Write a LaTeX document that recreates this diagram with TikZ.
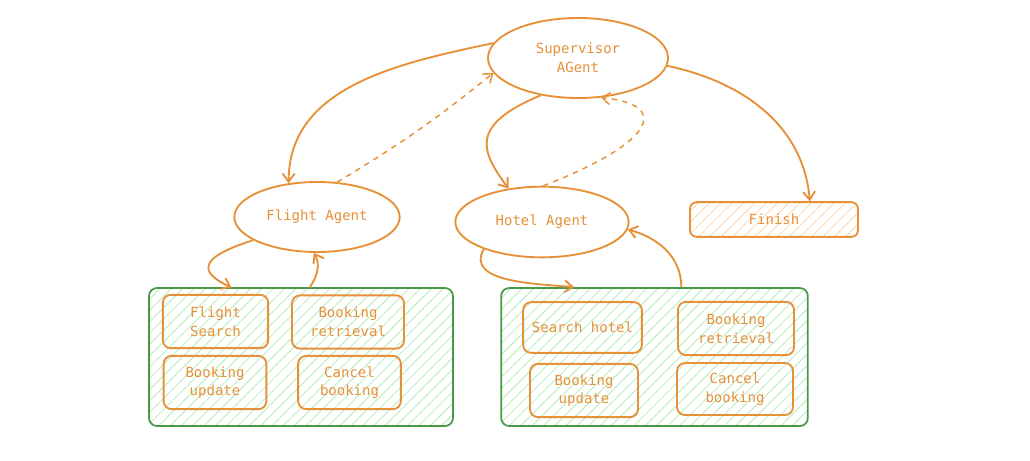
\documentclass[tikz,border=0pt]{standalone}
\usepackage{fontspec}
\setmainfont{DejaVu Sans Mono}
\usetikzlibrary{arrows.meta,patterns.meta,shapes.geometric}

\definecolor{agentorange}{RGB}{230,145,56}
\definecolor{toolgreen}{RGB}{72,152,72}
\definecolor{hatchgreen}{RGB}{178,236,186}
\definecolor{hatchorange}{RGB}{255,214,170}

\begin{document}
\begin{tikzpicture}[
    x=0.75pt, y=-0.75pt,
    font=\fontsize{10.5pt}{14pt}\selectfont,
    agent/.style={
        ellipse,
        draw=agentorange,
        line width=1.4pt,
        inner sep=0pt,
        text=agentorange,
        align=center
    },
    tool/.style={
        rectangle,
        rounded corners=6pt,
        draw=agentorange,
        line width=1.4pt,
        minimum height=40pt,
        inner sep=0pt,
        text=agentorange,
        align=center
    },
    group/.style={
        rectangle,
        rounded corners=6pt,
        draw=toolgreen,
        line width=1.3pt,
        minimum width=228pt,
        minimum height=103.5pt,
        pattern={Lines[angle=45,distance=6pt,line width=0.6pt]},
        pattern color=hatchgreen
    },
    done/.style={
        rectangle,
        rounded corners=5pt,
        draw=agentorange,
        line width=1.4pt,
        minimum width=126pt,
        minimum height=26pt,
        pattern={Lines[angle=45,distance=6pt,line width=0.6pt]},
        pattern color=hatchorange,
        text=agentorange
    },
    flow/.style={
        draw=agentorange,
        line width=1.4pt,
        -{Straight Barb[length=6pt,width=9pt]}
    },
    back/.style={
        flow,
        line width=1.1pt,
        dash pattern=on 4pt off 4pt
    }
]
\useasboundingbox (0,0) rectangle (1030,460);

% Tool groups
\node[group] (fgroup) at (301,357) {};
\node[group, minimum width=230pt] (hgroup) at (654.5,357) {};

% Agents
\node[agent, minimum width=135pt, minimum height=60pt] (sup) at (578,58) {Supervisor\\AGent};
\node[agent, minimum width=124pt, minimum height=52.5pt] (flight) at (317,217) {Flight Agent};
\node[agent, minimum width=130pt, minimum height=53pt] (hotel) at (542,222) {Hotel Agent};
\node[done] (finish) at (774,219.5) {Finish};

% Flight tools
\node[tool, minimum width=79pt] (fsearch) at (215.5,321.5) {Flight\\Search};
\node[tool, minimum width=84pt] (fretr) at (348,322) {Booking\\retrieval};
\node[tool, minimum width=77pt] (fupd) at (215,382.5) {Booking\\update};
\node[tool, minimum width=77pt] (fcancel) at (349.5,382.5) {Cancel\\booking};

% Hotel tools
\node[tool, minimum width=89pt, minimum height=38pt] (hsearch) at (582.5,327.5) {Search hotel};
\node[tool, minimum width=87pt] (hretr) at (736,328.5) {Booking\\retrieval};
\node[tool, minimum width=81pt] (hupd) at (584,390.5) {Booking\\update};
\node[tool, minimum width=87pt, minimum height=39pt] (hcancel) at (735,389) {Cancel\\booking};

% Arrows
\draw[flow] (sup.170) to[out=192,in=90] (flight.130);
\draw[back] (flight.60) to[bend right=4] (sup.190);
\draw[flow] (sup.225) .. controls (470,125) and (480,150) .. (hotel.135);
\draw[back] (hotel.88) .. controls (650,145) and (675,105) .. (sup.300);
\draw[flow] (sup.355) to[out=-12,in=95] (finish.27);
\draw[flow] (flight.200) .. controls (190,260) and (205,275) .. (fgroup.135);
\draw[flow] (fgroup.83) to[out=55,in=-60] (flight.265);
\draw[flow] (hotel.205) to[out=240,in=175] (hgroup.139);
\draw[flow] (hgroup.69) to[out=90,in=-15] (hotel.355);

\end{tikzpicture}
\end{document}
